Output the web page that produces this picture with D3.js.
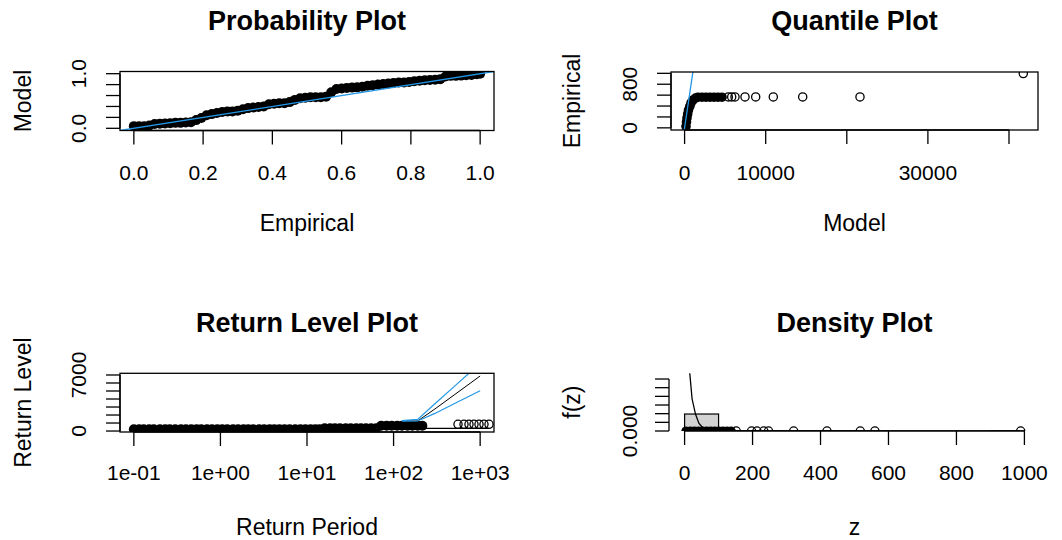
<!DOCTYPE html>
<html>
<head>
<meta charset="utf-8">
<script src="https://cdn.jsdelivr.net/npm/d3@7"></script>
<style>
body { margin: 0; background: #fff; }
text { font-family: "Liberation Sans", Arial, sans-serif; fill: #000; }
</style>
</head>
<body>
<div id="charts"></div>
<script>
// ---- Probability plot (empirical vs model) ----
var ppEmpirical = [0.000,0.015,0.030,0.045,0.060,0.075,0.090,0.105,0.120,0.135,0.150,0.165,0.180,0.195,0.210,0.225,0.240,0.255,0.270,0.285,0.300,0.315,0.330,0.345,0.360,0.375,0.390,0.405,0.420,0.435,0.450,0.465,0.480,0.495,0.510,0.525,0.540,0.555,0.570,0.585,0.600,0.615,0.630,0.645,0.660,0.675,0.690,0.705,0.720,0.735,0.750,0.765,0.780,0.795,0.810,0.825,0.840,0.855,0.870,0.885,0.900,0.915,0.930,0.945,0.960,0.975,0.990,1.000];
var ppModel = [0.04,0.04,0.04,0.05,0.08,0.085,0.09,0.095,0.10,0.10,0.105,0.11,0.15,0.19,0.24,0.26,0.28,0.30,0.31,0.31,0.32,0.35,0.37,0.38,0.39,0.40,0.44,0.45,0.46,0.46,0.48,0.52,0.55,0.56,0.57,0.57,0.57,0.58,0.66,0.72,0.73,0.74,0.745,0.75,0.76,0.78,0.79,0.80,0.81,0.82,0.83,0.84,0.84,0.85,0.86,0.87,0.88,0.885,0.89,0.90,0.95,0.96,0.96,0.965,0.97,0.975,0.99,1.00];
var ppLim = [0, 1];
var ppTicks = [0, 0.2, 0.4, 0.6, 0.8, 1.0];
var ppXLabels = ["0.0", "0.2", "0.4", "0.6", "0.8", "1.0"];
var ppYLabels = ["0.0", "", "", "", "", "1.0"];

// ---- Quantile plot (model vs empirical) ----
var qqModelRun = [173,234,296,382,481,641,789,1036,1344,1652,2146,2639,3132,3625,4118,4612];
var qqEmpRun = [25,107,181,254,327,392,456,511,547,562,562,562,562,562,562,562];
var qqModelTail = [5388,5808,6215,7448,8767,10937,14562,21627,41763];
var qqEmpTail = [568,568,568,568,568,568,568,568,995];
var qqXLim = [0, 41900];
var qqYLim = [0, 985];
var qqXTicks = [0, 10000, 20000, 30000, 40000];
var qqXLabels = ["0", "10000", "", "30000", ""];
var qqYTicks = [0, 200, 400, 600, 800, 1000];
var qqYLabels = ["0", "", "", "", "800", ""];

// ---- Return level plot ----
var rlPeriod = [125, 190, 300, 500, 1000];
var rlLevel = [1250, 1260, 2750, 4500, 6875];
var rlUpper = [1290, 1460, 3400, 5550, 8460];
var rlLower = [1220, 1250, 2200, 3400, 5040];
var rlObsPeriod = [0.1,0.115,0.13,0.15,0.17,0.2,0.23,0.26,0.3,0.35,0.4,0.46,0.53,0.6,0.7,0.8,0.92,1.05,1.2,1.4,1.6,1.85,2.1,2.4,2.8,3.2,3.7,4.2,4.8,5.5,6.3,7.3,8.4,9.6,11,12.5,14,
                   16,18.5,21,24,28,32,37,42,48,55,63,
                   72,83,95,110,125,145,165,190,215];
var rlObsLevel = [215,215,215,215,215,215,215,215,215,215,215,215,215,215,215,215,215,215,215,215,215,215,215,215,215,215,215,215,215,215,215,215,215,215,215,215,215,
                  340,340,340,340,340,340,340,340,340,340,340,
                  665,665,665,665,665,665,665,665,665];
var rlTailPeriod = [555, 651, 743, 849, 970, 1107, 1265];
var rlTailLevel = [840, 840, 840, 840, 840, 840, 840];
var rlFloorPeriod = [215, 1265];
var rlFloorLevel = [340, 340];
var rlXLim = [0.1, 1000];
var rlYLim = [150, 6940];
var rlXTicks = [0.1, 1, 10, 100, 1000];
var rlXLabels = ["1e-01", "1e+00", "1e+01", "1e+02", "1e+03"];
var rlYTicks = [0, 1000, 2000, 3000, 4000, 5000, 6000, 7000];
var rlYLabels = ["0", "", "", "", "", "", "", "7000"];

// ---- Density plot ----
var dnBreaks = [0, 100, 200, 300, 400, 500, 600, 700, 800, 900, 1000];
var dnHeights = [0.0098, 0.0002, 0.00005, 0.00002, 0.00002, 0.00003, 0, 0, 0, 0.00001];
var dnCurveZ = [14, 22, 32, 42, 52, 62, 72, 82, 100, 150, 300, 600, 985];
var dnCurveF = [0.036, 0.0186, 0.0098, 0.0045, 0.0022, 0.0012, 0.0007, 0.0004, 0.0002, 0.00005, 0.00001, 0.000003, 0.000001];
var dnObsRun = [4, 17, 29, 41, 53, 65, 77, 89, 101, 113, 125, 137];
var dnObsTail = [152, 197, 213, 233, 247, 321, 419, 517, 560, 989];
var dnYTop = 0.0333;
var dnXTicks = [0, 200, 400, 600, 800, 1000];
var dnXLabels = ["0", "200", "400", "600", "800", "1000"];
var dnYTicks = [0, 0.005, 0.01, 0.015, 0.02, 0.025, 0.03];
var dnYLabels = ["0.000", "", "", "", "", "", ""];

var blue = "#2297E6";
var tickLen = 14;

var svg = d3.select("#charts")
    .append("svg")
    .attr("width", 1062)
    .attr("height", 540);

// R style 4% range extension
function ext(lim) {
    var r = lim[1] - lim[0];
    return [lim[0] - 0.04 * r, lim[1] + 0.04 * r];
}

function addClip(id, b) {
    svg.append("clipPath").attr("id", id)
        .append("rect")
        .attr("x", b.x0).attr("y", b.y0)
        .attr("width", b.x1 - b.x0).attr("height", b.y1 - b.y0);
}

function drawBox(b) {
    svg.append("rect")
        .attr("x", b.x0).attr("y", b.y0)
        .attr("width", b.x1 - b.x0).attr("height", b.y1 - b.y0)
        .attr("fill", "none").attr("stroke", "#000").attr("stroke-width", 1.3);
}

function axisBottom(scale, ticks, labels, y, labelY) {
    var g = svg.append("g");
    g.append("line")
        .attr("x1", scale(ticks[0])).attr("x2", scale(ticks[ticks.length - 1]))
        .attr("y1", y).attr("y2", y)
        .attr("stroke", "#000").attr("stroke-width", 1.3);
    g.selectAll(".tk").data(ticks).enter()
        .append("line")
        .attr("x1", d => scale(d)).attr("x2", d => scale(d))
        .attr("y1", y).attr("y2", y + tickLen)
        .attr("stroke", "#000").attr("stroke-width", 1.3);
    g.selectAll(".lb").data(ticks).enter()
        .append("text")
        .attr("x", d => scale(d))
        .attr("y", labelY)
        .attr("text-anchor", "middle")
        .attr("font-size", 21)
        .text((d, i) => labels[i]);
}

function axisLeft(scale, ticks, labels, x, labelX) {
    var g = svg.append("g");
    g.append("line")
        .attr("y1", scale(ticks[0])).attr("y2", scale(ticks[ticks.length - 1]))
        .attr("x1", x).attr("x2", x)
        .attr("stroke", "#000").attr("stroke-width", 1.3);
    g.selectAll(".tk").data(ticks).enter()
        .append("line")
        .attr("y1", d => scale(d)).attr("y2", d => scale(d))
        .attr("x1", x).attr("x2", x - tickLen)
        .attr("stroke", "#000").attr("stroke-width", 1.3);
    g.selectAll(".lb").data(ticks).enter()
        .append("text")
        .attr("transform", d => "translate(" + labelX + "," + scale(d) + ") rotate(-90)")
        .attr("text-anchor", "middle")
        .attr("font-size", 21)
        .text((d, i) => labels[i]);
}

function titles(b, main, xlab, ylab, mainY, xlabY, ylabX) {
    var cx = (b.x0 + b.x1) / 2;
    svg.append("text").attr("x", cx).attr("y", mainY)
        .attr("text-anchor", "middle").attr("font-size", 27).attr("font-weight", "bold")
        .text(main);
    svg.append("text").attr("x", cx).attr("y", xlabY)
        .attr("text-anchor", "middle").attr("font-size", 23)
        .text(xlab);
    svg.append("text")
        .attr("transform", "translate(" + ylabX + "," + ((b.y0 + b.y1) / 2) + ") rotate(-90)")
        .attr("text-anchor", "middle").attr("font-size", 23)
        .text(ylab);
}

// filled disks for heavily overlapped runs, open circles elsewhere
function runPoints(g, xs, ys, sx, sy, r) {
    g.selectAll(null).data(xs).enter()
        .append("circle")
        .attr("cx", d => sx(d)).attr("cy", (d, i) => sy(ys[i]))
        .attr("r", r).attr("fill", "#000");
}
function openPoints(g, xs, ys, sx, sy) {
    g.selectAll(null).data(xs).enter()
        .append("circle")
        .attr("cx", d => sx(d)).attr("cy", (d, i) => sy(ys[i]))
        .attr("r", 4.1).attr("fill", "none").attr("stroke", "#000").attr("stroke-width", 1.3);
}

// ---------- Probability Plot ----------
var b1 = {x0: 120, x1: 494, y0: 71.5, y1: 130.5};
var x1 = d3.scaleLinear().domain(ext(ppLim)).range([b1.x0, b1.x1]);
var y1 = d3.scaleLinear().domain(ext(ppLim)).range([b1.y1, b1.y0]);
addClip("c1", b1);
var p1 = svg.append("g").attr("clip-path", "url(#c1)");
runPoints(p1, ppEmpirical, ppModel, x1, y1, 5);
p1.append("path")
    .datum(ext(ppLim))
    .attr("d", d3.line().x(d => x1(d)).y(d => y1(d)))
    .attr("stroke", blue).attr("stroke-width", 1.3).attr("fill", "none");
drawBox(b1);
axisBottom(x1, ppTicks, ppXLabels, b1.y1, 180);
axisLeft(y1, ppTicks, ppYLabels, b1.x0, 86);
titles(b1, "Probability Plot", "Empirical", "Model", 30, 231, 31);

// ---------- Quantile Plot ----------
var b2 = {x0: 671, x1: 1038, y0: 72, y1: 130};
var x2 = d3.scaleLinear().domain(ext(qqXLim)).range([b2.x0, b2.x1]);
var y2 = d3.scaleLinear().domain(ext(qqYLim)).range([b2.y1, b2.y0]);
addClip("c2", b2);
var p2 = svg.append("g").attr("clip-path", "url(#c2)");
runPoints(p2, qqModelRun, qqEmpRun, x2, y2, 4.8);
openPoints(p2, qqModelTail, qqEmpTail, x2, y2);
p2.append("path")
    .datum(ext(qqYLim))
    .attr("d", d3.line().x(d => x2(d)).y(d => y2(d)))
    .attr("stroke", blue).attr("stroke-width", 1.3).attr("fill", "none");
drawBox(b2);
axisBottom(x2, qqXTicks, qqXLabels, b2.y1, 180);
axisLeft(y2, qqYTicks, qqYLabels, b2.x0, 637);
titles(b2, "Quantile Plot", "Model", "Empirical", 30, 231, 580);

// ---------- Return Level Plot ----------
var b3 = {x0: 120, x1: 494, y0: 373.3, y1: 432};
var lx = ext([Math.log10(rlXLim[0]), Math.log10(rlXLim[1])]);
var x3 = d3.scaleLog().domain([Math.pow(10, lx[0]), Math.pow(10, lx[1])]).range([b3.x0, b3.x1]);
var y3 = d3.scaleLinear().domain(ext(rlYLim)).range([b3.y1, b3.y0]);
addClip("c3", b3);
var p3 = svg.append("g").attr("clip-path", "url(#c3)");
var rlLine = function(xs, vals) {
    return d3.line().x((d, i) => x3(xs[i])).y(d => y3(d))(vals);
};
runPoints(p3, rlObsPeriod, rlObsLevel, x3, y3, 5);
openPoints(p3, rlTailPeriod, rlTailLevel, x3, y3);
p3.append("path").attr("d", rlLine(rlFloorPeriod, rlFloorLevel)).attr("stroke", "#000").attr("stroke-width", 1.2).attr("fill", "none");
p3.append("path").attr("d", rlLine(rlPeriod, rlLevel)).attr("stroke", "#000").attr("stroke-width", 1).attr("fill", "none");
p3.append("path").attr("d", rlLine(rlPeriod, rlUpper)).attr("stroke", blue).attr("stroke-width", 1.2).attr("fill", "none");
p3.append("path").attr("d", rlLine(rlPeriod, rlLower)).attr("stroke", blue).attr("stroke-width", 1.2).attr("fill", "none");
drawBox(b3);
axisBottom(x3, rlXTicks, rlXLabels, b3.y1, 480);
axisLeft(y3, rlYTicks, rlYLabels, b3.x0, 86);
titles(b3, "Return Level Plot", "Return Period", "Return Level", 332, 535, 31);

// ---------- Density Plot ----------
var b4 = {x0: 671, x1: 1038, y0: 373.3, y1: 431};
var x4 = d3.scaleLinear().domain(ext([dnBreaks[0], dnBreaks[dnBreaks.length - 1]])).range([b4.x0, b4.x1]);
var y4 = d3.scaleLinear().domain([0, dnYTop]).range([b4.y1, b4.y0]);
addClip("c4", b4);
var p4 = svg.append("g").attr("clip-path", "url(#c4)");
p4.selectAll(".bar").data(dnHeights).enter()
    .append("rect")
    .attr("x", (d, i) => x4(dnBreaks[i]))
    .attr("width", (d, i) => x4(dnBreaks[i + 1]) - x4(dnBreaks[i]))
    .attr("y", d => y4(d))
    .attr("height", d => y4(0) - y4(d))
    .attr("fill", "#D3D3D3").attr("stroke", "#000").attr("stroke-width", 1.2);
runPoints(p4, dnObsRun, dnObsRun.map(() => 0), x4, y4, 4.6);
openPoints(p4, dnObsTail, dnObsTail.map(() => 0), x4, y4);
p4.append("path")
    .attr("d", d3.line().x((d, i) => x4(dnCurveZ[i])).y(d => y4(d))(dnCurveF))
    .attr("stroke", "#000").attr("stroke-width", 1.3).attr("fill", "none");
axisBottom(x4, dnXTicks, dnXLabels, b4.y1, 480);
axisLeft(y4, dnYTicks, dnYLabels, b4.x0 - 2, 637);
titles(b4, "Density Plot", "z", "f(z)", 332, 535, 580);
</script>
</body>
</html>
